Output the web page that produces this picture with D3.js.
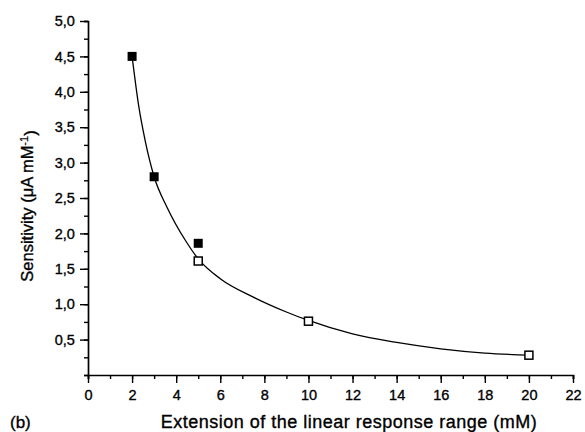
<!DOCTYPE html>
<html><head><meta charset="utf-8">
<script src="https://cdn.jsdelivr.net/npm/d3@7"></script>
<style>body{margin:0;background:#fff}svg{display:block}text{font-family:"Liberation Sans",Arial,sans-serif;fill:#000}</style>
</head><body><svg id="c" width="585" height="432"></svg>
<script>
const filledX = [2, 3, 5];
const filledY = [4.5, 2.8, 1.86];
const openX = [5, 10, 20];
const openY = [1.61, 0.76, 0.28];
const curveX = [2, 2.3, 2.6, 3, 3.6, 4.4, 5, 6, 7.5, 9, 10, 12, 14, 16, 18, 20];
const curveY = [4.5, 3.8, 3.3, 2.8, 2.36, 1.91, 1.64, 1.36, 1.1, 0.89, 0.77, 0.58, 0.46, 0.37, 0.31, 0.28];
const xTicks = [0,2,4,6,8,10,12,14,16,18,20,22];
const yTicks = [0.5,1.0,1.5,2.0,2.5,3.0,3.5,4.0,4.5,5.0];

const svg = d3.select("#c");
const x = d3.scaleLinear().domain([0,22]).range([88,573]);
const y = d3.scaleLinear().domain([0,5]).range([375,21]);
const fmt = v => d3.format(".1f")(v).replace(".", ",");
const styleText = sel => sel.attr("font-family","Liberation Sans, Arial, sans-serif").attr("fill","#000")
  .attr("stroke","#000").attr("stroke-width",0.35);

// minor + major ticks
const gx = svg.append("g").attr("transform","translate(0,375)");
gx.call(d3.axisBottom(x).tickValues(d3.range(0,23,1)).tickSize(4).tickFormat(""));
gx.append("g").call(d3.axisBottom(x).tickValues(xTicks).tickSize(8).tickFormat(d=>d))
  .call(g=>g.selectAll("text").attr("font-size","14.5px").attr("dy","0.95em").call(styleText));
const gy = svg.append("g").attr("transform","translate(88,0)");
gy.call(d3.axisLeft(y).tickValues(d3.range(0,5.01,0.25)).tickSize(4).tickFormat(""));
gy.append("g").call(d3.axisLeft(y).tickValues(yTicks).tickSize(8).tickFormat(fmt))
  .call(g=>g.selectAll("text").attr("font-size","14.5px").attr("dx","-0.15em").call(styleText));
svg.selectAll(".domain").attr("stroke","#000").attr("stroke-width",1.7);
svg.selectAll(".tick line").attr("stroke","#000").attr("stroke-width",1.4);
gy.selectAll("g > g .domain").remove();
gx.selectAll("g > g .domain").remove();

// curve
const pts = curveX.map((d,i)=>[d,curveY[i]]);
svg.append("path").datum(pts)
  .attr("d", d3.line().x(d=>x(d[0])).y(d=>y(d[1])).curve(d3.curveMonotoneX))
  .attr("fill","none").attr("stroke","#000").attr("stroke-width",1.3);

const s = 9;
svg.selectAll(".f").data(filledX.map((d,i)=>[d,filledY[i]])).enter().append("rect")
  .attr("x",d=>x(d[0])-s/2).attr("y",d=>y(d[1])-s/2).attr("width",s).attr("height",s).attr("fill","#000");
const so = 8;
svg.selectAll(".o").data(openX.map((d,i)=>[d,openY[i]])).enter().append("rect")
  .attr("x",d=>x(d[0])-so/2).attr("y",d=>y(d[1])-so/2).attr("width",so).attr("height",so)
  .attr("fill","#fff").attr("stroke","#000").attr("stroke-width",1.5);

svg.append("text").attr("x",349).attr("y",428).attr("text-anchor","middle").attr("font-size","18px")
  .attr("letter-spacing","0.5px").call(styleText)
  .text("Extension of the linear response range (mM)");
svg.append("text").attr("x",10).attr("y",428).attr("font-size","17px").call(styleText).text("(b)");
const yl = svg.append("text").attr("transform","translate(33,206) rotate(-90)").attr("text-anchor","middle")
  .attr("font-size","16.5px").call(styleText);
yl.append("tspan").text("Sensitivity (μA mM");
yl.append("tspan").attr("dy","-0.5em").attr("font-size","11px").attr("stroke-width",0.2).text("-1");
yl.append("tspan").attr("dy","0.5em").text(")");
</script></body></html>
